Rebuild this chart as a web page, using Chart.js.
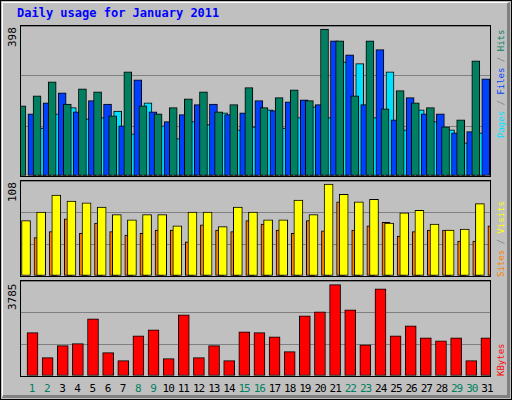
<!DOCTYPE html>
<html>
<head>
<meta charset="utf-8">
<script src="https://cdn.jsdelivr.net/npm/chart.js@4/dist/chart.umd.min.js"></script>
<style>
body { margin:0; background:#c0c0c0; }
#frame { position:absolute; left:0; top:0; width:510px; height:398px; background:#c0c0c0;
  border:1px solid #000; }
#inner { position:absolute; left:1px; top:1px; width:504px; height:392px;
  border-top:1px solid #fff; border-left:1px solid #fff; border-right:3px solid #808080; border-bottom:3px solid #808080; }
.box { position:absolute; border:1px solid #000; }
.box canvas { position:absolute; left:0; top:0; }
.vt { position:absolute; font:9px "DejaVu Sans Mono", monospace; transform-origin:0 0; transform:rotate(-90deg); white-space:nowrap; }
.lv { font-size:11px; }
#title { position:absolute; left:17px; top:6px; font:bold 12px "DejaVu Sans Mono", monospace; color:#0000ff; }
.xl { position:absolute; top:382px; font:11px "DejaVu Sans Mono", monospace; letter-spacing:-1px; width:20px; text-align:center; }
</style>
</head>
<body>
<div id="frame"><div id="inner"></div></div>
<div id="title">Daily usage for January 2011</div>
<div class="box" style="left:20px;top:25px;width:469px;height:150px"><canvas id="c1" width="469" height="150"></canvas></div>
<div class="box" style="left:20px;top:180px;width:469px;height:95px"><canvas id="c2" width="469" height="95"></canvas></div>
<div class="box" style="left:20px;top:280px;width:469px;height:95px"><canvas id="c3" width="469" height="95"></canvas></div>
<div class="vt lv" style="left:6px;top:47px">398</div>
<div class="vt lv" style="left:6px;top:202px">108</div>
<div class="vt lv" style="left:6px;top:310px">3785</div>
<div class="vt" style="left:496px;top:138px"><span style="color:#00e0ff">Pages</span><span style="color:#808080"> / </span><span style="color:#0040ff">Files</span><span style="color:#808080"> / </span><span style="color:#008060">Hits</span></div>
<div class="vt" style="left:496px;top:277px"><span style="color:#ff8000">Sites</span><span style="color:#808080"> / </span><span style="color:#ffff00">Visits</span></div>
<div class="vt" style="left:496px;top:376px"><span style="color:#ff0000">KBytes</span></div>
<div id="xlabels"></div>
<script>
var days = [];
for (var i = 1; i <= 31; ++i) days.push(i);
var weekend = [1, 2, 8, 9, 15, 16, 22, 23, 29, 30];

var hits  = [190,217,255,195,236,228,163,282,190,168,185,209,228,174,193,239,185,212,233,204,398,366,217,366,182,231,198,185,133,152,312];
var files = [168,198,225,174,204,195,136,260,174,147,166,193,195,166,171,204,177,201,206,193,366,328,193,342,152,212,168,168,117,120,263];
var pages = [130,168,185,155,158,176,114,198,136,101,147,139,171,125,133,179,130,158,187,158,309,304,158,282,125,179,147,125,90,117,236];
var visits = [65,75,95,88,86,81,72,66,72,72,59,75,75,58,81,75,66,66,89,72,108,96,87,90,62,74,77,61,54,55,85];
var sites  = [45,52,67,50,62,52,48,50,54,54,40,60,54,52,65,61,54,50,65,53,87,54,59,63,47,52,54,54,41,41,59];
var kbytes = [1795,760,1256,1339,2375,966,635,1670,1918,718,2540,760,1256,635,1835,1795,1628,1008,2498,2663,3785,2747,1297,3617,1670,2084,1587,1463,1587,635,1587];

Chart.defaults.animation = false;
Chart.defaults.devicePixelRatio = 1;

function ds(vals, off, color, w) {
  return {
    data: vals.map(function (v, i) { return {x: days[i] + off, y: v}; }),
    backgroundColor: color, borderColor: '#000', borderWidth: 1,
    barThickness: w, borderSkipped: false
  };
}

function makeChart(id, sets, max) {
  return new Chart(document.getElementById(id), {
    type: 'bar',
    data: {datasets: sets},
    options: {
      responsive: false,
      layout: {padding: 0},
      plugins: {legend: {display: false}, tooltip: {enabled: false}},
      scales: {
        x: {type: 'linear', min: 0.5, max: 31.5, offset: false, display: false},
        y: {min: 0, max: max, afterFit: function (s) { s.width = 0; },
            ticks: {display: false, stepSize: max / 3},
            border: {display: false},
            grid: {color: '#808080', drawTicks: false}}
      }
    },
    plugins: [{id: 'bg', beforeDraw: function (c) {
      var ctx = c.ctx; ctx.fillStyle = '#c0c0c0'; ctx.fillRect(0, 0, c.width, c.height);
    }}]
  });
}

// datasets later in the list are drawn on top
makeChart('c1', [ds(hits, 0.09, '#008060', 8), ds(files, 0.22, '#0040ff', 8), ds(pages, 0.36, '#00e0ff', 8)], 406);
makeChart('c2', [ds(visits, 0.13, '#ffff00', 9), ds(sites, 0.36, '#ff8000', 8)], 111.5);
makeChart('c3', [ds(kbytes, 0.26, '#ff0000', 11)], 3938);

var xl = document.getElementById('xlabels');
days.forEach(function (d) {
  var el = document.createElement('div');
  el.className = 'xl';
  el.textContent = d;
  el.style.left = (20 + (d - 0.5) * 15.18 + 4 - 10) + 'px';
  el.style.color = weekend.indexOf(d) >= 0 ? '#008060' : '#000';
  xl.appendChild(el);
});
</script>
</body>
</html>
